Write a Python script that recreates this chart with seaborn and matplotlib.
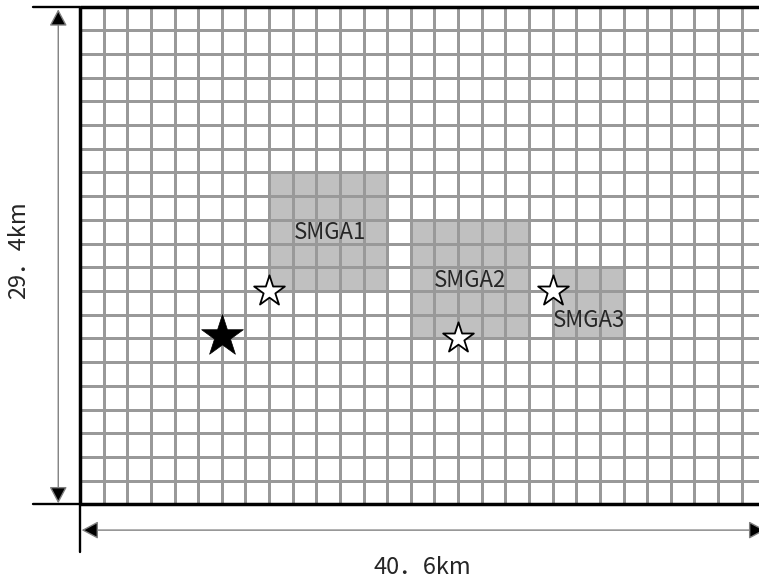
import numpy as np
import matplotlib
matplotlib.use("Agg")
import matplotlib.pyplot as plt
import seaborn as sns
from matplotlib.colors import ListedColormap

#Fault plane grid: 29 x 21 sub-faults (1.4km each)
n_cols = 29
n_rows = 21
width_label = "40．6km"
height_label = "29．4km"

#Strong motion generation areas (first column, first row, size in cells)
smga_names = ["SMGA1", "SMGA2", "SMGA3"]
smga_col = [8, 14, 20]
smga_row = [7, 9, 11]
smga_ncol = [5, 5, 3]
smga_nrow = [5, 5, 3]
smga_label_x = [10.58, 16.5, 21.55]
smga_label_y = [9.54, 11.54, 13.25]

#Rupture starting points (white) and hypocenter (black)
start_x = [8.0, 16.0, 20.0]
start_y = [12.0, 14.0, 12.0]
hypo_x = [6.0]
hypo_y = [13.9]


def build_matrix():
    grid = np.zeros((n_rows, n_cols))
    for c, r, w, h in zip(smga_col, smga_row, smga_ncol, smga_nrow):
        grid[r:r + h, c:c + w] = 1
    return grid


def main():
    sns.set_style("white")
    plt.rcParams["font.family"] = ["Noto Sans CJK JP", "DejaVu Sans"]

    fig = plt.figure(figsize=(7.59, 5.79), dpi=100)
    #axes placed so that each cell is about 23.6 px square
    ax = fig.add_axes([80 / 759, (579 - 504.5) / 579, 685.3 / 759, 498 / 579])

    sns.heatmap(build_matrix(), cmap=ListedColormap(["white", "#c0c0c0"]), cbar=False,
                linewidths=1.0, linecolor="#999999", xticklabels=False, yticklabels=False,
                vmin=0, vmax=1, ax=ax)

    #thick border on top, left and bottom
    ax.plot([0, n_cols], [0, 0], color="black", lw=2.5, clip_on=False, solid_capstyle="butt")
    ax.plot([0, n_cols], [n_rows, n_rows], color="black", lw=2.5, clip_on=False, solid_capstyle="butt")
    ax.plot([0, 0], [0, n_rows], color="black", lw=2.5, clip_on=False, solid_capstyle="butt")

    #extension lines for the dimension arrows
    ax.plot([-2.0, 0], [0, 0], color="black", lw=1.7, clip_on=False)
    ax.plot([-2.0, 0], [n_rows, n_rows], color="black", lw=1.7, clip_on=False)
    ax.plot([0, 0], [n_rows, 23.0], color="black", lw=1.7, clip_on=False)

    arrow = dict(arrowstyle="<|-|>,head_length=0.6,head_width=0.32", mutation_scale=17,
                 ec="#808080", fc="black", lw=1, shrinkA=0, shrinkB=0)
    ax.annotate("", xy=(-0.92, 0.12), xytext=(-0.92, n_rows - 0.05), arrowprops=arrow,
                annotation_clip=False)
    ax.annotate("", xy=(0.07, 22.08), xytext=(n_cols, 22.08), arrowprops=arrow,
                annotation_clip=False)

    ax.text(-2.6, 10.27, height_label, rotation=90, ha="center", va="center", fontsize=17,
            clip_on=False)
    ax.text(14.5, 23.65, width_label, ha="center", va="center", fontsize=17, clip_on=False)

    for name, x, y in zip(smga_names, smga_label_x, smga_label_y):
        ax.text(x, y, name, ha="center", va="center", fontsize=16)

    sns.scatterplot(x=start_x, y=start_y, marker="*", s=540, color="white",
                    edgecolor="black", linewidth=1.3, ax=ax, zorder=5, clip_on=False)
    sns.scatterplot(x=hypo_x, y=hypo_y, marker="*", s=1000, color="black",
                    edgecolor="black", linewidth=0.5, ax=ax, zorder=5, clip_on=False)

    ax.set_xlabel("")
    ax.set_ylabel("")
    ax.set_xlim(0, n_cols)
    ax.set_ylim(n_rows, 0)

    fig.savefig("out.png", dpi=100)
    plt.close(fig)


if __name__ == "__main__":
    main()
